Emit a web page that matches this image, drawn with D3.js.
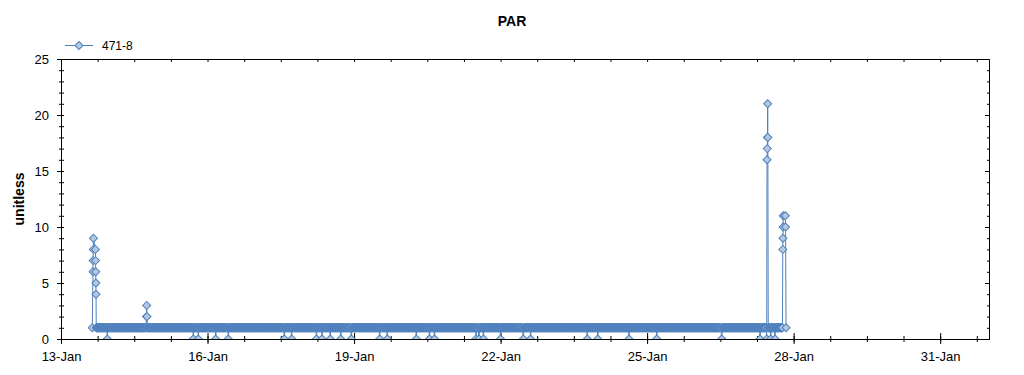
<!DOCTYPE html>
<html>
<head>
<meta charset="utf-8">
<script src="https://cdn.jsdelivr.net/npm/d3@7"></script>
<style>
  body { margin: 0; background: #fff; }
  text { font-family: "Liberation Sans", Arial, sans-serif; }
</style>
</head>
<body>
<svg id="chart" width="1024" height="375"></svg>
<script>
// times are January day numbers (13.5 = 13-Jan 12:00)
let seriesName = "471-8";
let chartTitle = "PAR";
let yLabel = "unitless";

// logger sits at 1 between these times, one reading every 15 min
let logStart = 13.73;
let logEnd = 27.775;
let logStepMin = 15;
let logValue = 1;

// readings that dropped to 0
let zeroDays = [13.948, 15.709, 15.811, 16.167, 16.425, 17.572, 17.723, 18.231, 18.344,
  18.514, 18.727, 18.944, 19.525, 19.681, 20.275, 20.545, 20.647, 21.497, 21.558,
  21.650, 21.998, 22.465, 22.613, 23.776, 23.989, 24.629, 25.197, 26.527, 27.312,
  27.449, 27.531, 27.619];

// readings above 1
let spikeDays = [13.641, 13.655, 13.658, 13.661, 13.665, 13.705, 13.708, 13.711, 13.714, 13.717, 13.722,
  14.750, 14.755, 14.760,
  27.455, 27.460, 27.464, 27.469, 27.472,
  27.778, 27.781, 27.784, 27.787, 27.830, 27.835, 27.845];
let spikeValues = [1, 6, 7, 8, 9, 8, 7, 6, 5, 4, 1,
  2, 3, 2,
  16, 17, 18, 21, 18,
  8, 9, 10, 11, 11, 10, 1];

let xTickDays = [13, 16, 19, 22, 25, 28, 31];
let xTickLabels = ["13-Jan", "16-Jan", "19-Jan", "22-Jan", "25-Jan", "28-Jan", "31-Jan"];
let yTicks = [0, 5, 10, 15, 20, 25];

let toDate = function(d) {
  return new Date(Date.UTC(2020, 0, 1) + (d - 1) * 864e5);
};

// put readings together
let events = [];
zeroDays.forEach(function(d) { events.push({ day: d, value: 0 }); });
spikeDays.forEach(function(d, i) { events.push({ day: d, value: spikeValues[i] }); });

let stepDay = logStepMin / 1440;
let readings = events.slice();
for (let d = logStart; d <= logEnd; d += stepDay) {
  let near = events.some(function(e) { return Math.abs(e.day - d) < 0.006; });
  if (!near) readings.push({ day: d, value: logValue });
}
readings.sort(function(a, b) { return a.day - b.day; });

let svg = d3.select("#chart");
let margin = { top: 59, right: 35, bottom: 36, left: 61 };
let plotWidth = 1024 - margin.left - margin.right;
let plotHeight = 375 - margin.top - margin.bottom;

let x = d3.scaleUtc()
  .domain([toDate(13), toDate(32)])
  .range([0, plotWidth]);

let y = d3.scaleLinear()
  .domain([0, 25])
  .range([plotHeight, 0]);

let plot = svg.append("g")
  .attr("transform", "translate(" + margin.left + "," + margin.top + ")");

svg.append("defs").append("clipPath").attr("id", "plotClip")
  .append("rect").attr("width", plotWidth).attr("height", plotHeight);

// axes
let minorX = d3.range(13, 32, 0.75).map(toDate);
let majorX = xTickDays.map(toDate);
let minorY = d3.range(0, 26, 1);

let styleAxis = function(g) {
  g.selectAll("path, line").attr("stroke", "#000");
  g.selectAll("text").attr("fill", "#000").attr("font-size", 13)
    .attr("font-family", "'Liberation Sans', Arial, sans-serif");
};

let xMinor = plot.append("g").attr("transform", "translate(0," + plotHeight + ")")
  .call(d3.axisBottom(x).tickValues(minorX).tickFormat("").tickSize(3).tickSizeOuter(0));
xMinor.selectAll(".tick line").attr("y1", -3);

let xMajor = plot.append("g").attr("transform", "translate(0," + plotHeight + ")")
  .call(d3.axisBottom(x).tickValues(majorX)
    .tickFormat(function(d, i) { return xTickLabels[i]; })
    .tickSize(5).tickPadding(8).tickSizeOuter(0));
xMajor.selectAll(".tick line").attr("y1", -6);

let xTop = plot.append("g")
  .call(d3.axisTop(x).tickValues(minorX).tickFormat("").tickSize(-3).tickSizeOuter(0));

let yMinor = plot.append("g")
  .call(d3.axisLeft(y).tickValues(minorY).tickFormat("").tickSize(2).tickSizeOuter(0));
yMinor.selectAll(".tick line").attr("x1", 3);

let yMajor = plot.append("g")
  .call(d3.axisLeft(y).tickValues(yTicks).tickSize(4).tickPadding(8).tickSizeOuter(0));

let yRightMinor = plot.append("g").attr("transform", "translate(" + plotWidth + ",0)")
  .call(d3.axisRight(y).tickValues(minorY).tickFormat("").tickSize(-2).tickSizeOuter(0));
let yRightMajor = plot.append("g").attr("transform", "translate(" + plotWidth + ",0)")
  .call(d3.axisRight(y).tickValues(yTicks).tickFormat("").tickSize(-4).tickSizeOuter(0));

[xMinor, xMajor, xTop, yMinor, yMajor, yRightMinor, yRightMajor].forEach(styleAxis);

// series
let lineColor = "#4f81bd";
let markerFill = "#b4c9df";

let series = plot.append("g").attr("clip-path", "url(#plotClip)");

let line = d3.line()
  .x(function(d) { return x(toDate(d.day)); })
  .y(function(d) { return y(d.value); });

series.append("path")
  .datum(readings)
  .attr("d", line)
  .attr("fill", "none")
  .attr("stroke", lineColor)
  .attr("stroke-width", 1);

let diamond = d3.symbol().type(d3.symbolSquare).size(32);

series.selectAll("path.marker")
  .data(readings)
  .enter().append("path")
  .attr("class", "marker")
  .attr("d", diamond)
  .attr("transform", function(d) {
    return "translate(" + x(toDate(d.day)) + "," + y(d.value) + ") rotate(45)";
  })
  .attr("fill", markerFill)
  .attr("stroke", lineColor)
  .attr("stroke-width", 1);

// titles
svg.append("text")
  .attr("x", 512).attr("y", 26)
  .attr("text-anchor", "middle")
  .attr("font-size", 14).attr("font-weight", "bold")
  .text(chartTitle);

svg.append("text")
  .attr("transform", "translate(24," + (margin.top + plotHeight / 2) + ") rotate(-90)")
  .attr("text-anchor", "middle")
  .attr("font-size", 14).attr("font-weight", "bold")
  .text(yLabel);

// legend
let legend = svg.append("g").attr("transform", "translate(65,45.5)");
legend.append("line").attr("x1", 0).attr("x2", 28)
  .attr("stroke", lineColor).attr("stroke-width", 1);
legend.append("path").attr("d", diamond)
  .attr("transform", "translate(14,0) rotate(45)")
  .attr("fill", markerFill).attr("stroke", lineColor);
legend.append("text").attr("x", 37).attr("y", 4.5)
  .attr("font-size", 12).attr("fill", "#000")
  .text(seriesName);
</script>
</body>
</html>
